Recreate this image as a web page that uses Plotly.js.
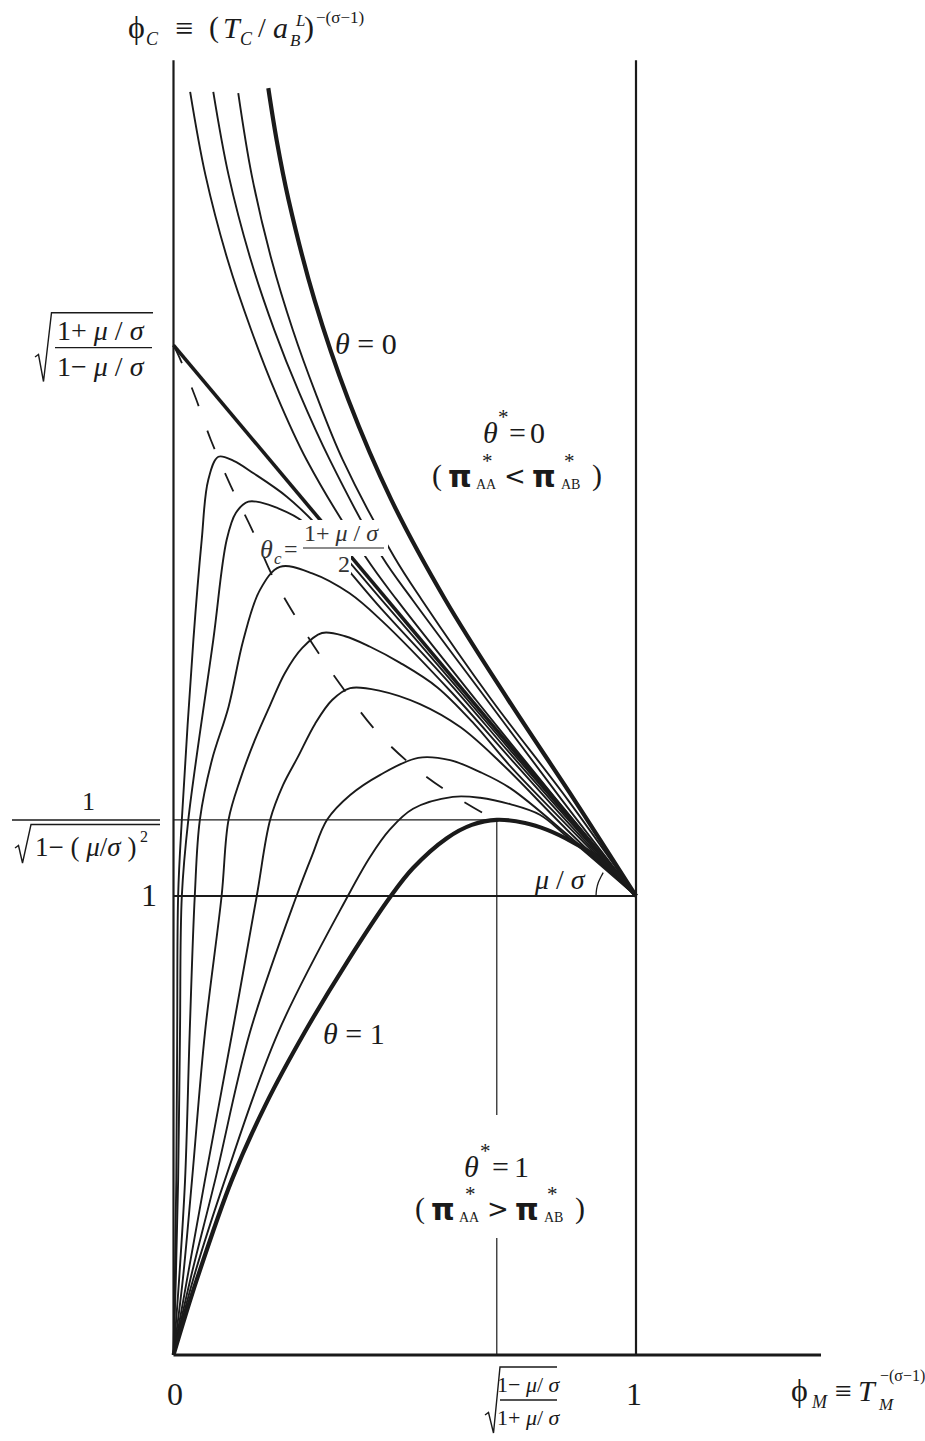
<!DOCTYPE html>
<html>
<head>
<meta charset="utf-8">
<script src="https://cdn.plot.ly/plotly-3.0.1.min.js"></script>
<style>
  html, body { margin: 0; padding: 0; background: #fff; }
  #chart { width: 925px; height: 1441px; }
</style>
</head>
<body>
<div id="chart"></div>
<script>
// curves that leave the origin, peak, then run into (1, 1)
const p1X = [0, 0.003, 0.006, 0.008, 0.01, 0.018, 0.043, 0.061, 0.075, 0.097, 0.13, 0.173, 0.245, 0.31, 0.45, 0.6, 0.728, 0.85, 1];
const p1Y = [0, 0.163, 0.381, 0.7, 1.0, 1.166, 1.558, 1.776, 1.906, 1.957, 1.948, 1.921, 1.87, 1.808, 1.645, 1.47, 1.318, 1.175, 1];
const p2X = [0, 0.005, 0.01, 0.014, 0.018, 0.032, 0.086, 0.115, 0.135, 0.162, 0.19, 0.223, 0.281, 0.45, 0.6, 0.728, 0.85, 1];
const p2Y = [0, 0.163, 0.381, 0.7, 1.0, 1.166, 1.558, 1.776, 1.835, 1.859, 1.857, 1.846, 1.815, 1.625, 1.46, 1.31, 1.17, 1];
const p3X = [0, 0.012, 0.025, 0.035, 0.046, 0.057, 0.083, 0.119, 0.151, 0.187, 0.23, 0.3, 0.38, 0.45, 0.6, 0.728, 0.85, 1];
const p3Y = [0, 0.163, 0.381, 0.702, 1.0, 1.166, 1.296, 1.412, 1.558, 1.667, 1.717, 1.703, 1.66, 1.6, 1.445, 1.3, 1.163, 1];
const p4X = [0, 0.02, 0.04, 0.068, 0.104, 0.119, 0.144, 0.176, 0.209, 0.241, 0.278, 0.321, 0.371, 0.425, 0.49, 0.57, 0.65, 0.728, 0.85, 1];
const p4Y = [0, 0.163, 0.381, 0.702, 1.0, 1.166, 1.253, 1.34, 1.416, 1.486, 1.54, 1.573, 1.566, 1.543, 1.508, 1.455, 1.375, 1.283, 1.155, 1];
const p5X = [0, 0.029, 0.068, 0.127, 0.18, 0.209, 0.237, 0.269, 0.306, 0.343, 0.382, 0.447, 0.533, 0.62, 0.706, 0.85, 1];
const p5Y = [0, 0.163, 0.381, 0.702, 1.0, 1.166, 1.242, 1.303, 1.375, 1.427, 1.453, 1.447, 1.418, 1.368, 1.292, 1.145, 1];
const p6X = [0, 0.036, 0.09, 0.165, 0.266, 0.3, 0.332, 0.382, 0.447, 0.529, 0.598, 0.663, 0.728, 0.85, 1];
const p6Y = [0, 0.163, 0.381, 0.702, 1.0, 1.089, 1.166, 1.22, 1.264, 1.301, 1.296, 1.27, 1.235, 1.135, 1];
const p7X = [0, 0.042, 0.111, 0.226, 0.377, 0.425, 0.468, 0.518, 0.604, 0.663, 0.728, 0.792, 0.85, 1];
const p7Y = [0, 0.163, 0.381, 0.702, 1.0, 1.085, 1.145, 1.19, 1.216, 1.214, 1.2, 1.177, 1.13, 1];
const theta1X = [0, 0.05, 0.126, 0.199, 0.283, 0.374, 0.47, 0.518, 0.591, 0.645, 0.699, 0.76, 0.808, 0.862, 0.916, 0.961, 1];
const theta1Y = [0, 0.163, 0.381, 0.545, 0.702, 0.854, 1.0, 1.061, 1.126, 1.155, 1.166, 1.159, 1.144, 1.118, 1.085, 1.046, 1];

// curves that come down from the top into (1, 1)
const u1X = [0.036, 0.069, 0.117, 0.168, 0.221, 0.288, 0.415, 0.483, 0.654, 0.829, 1];
const u1Y = [2.752, 2.571, 2.386, 2.233, 2.096, 1.95, 1.739, 1.645, 1.427, 1.209, 1];
const u2X = [0.086, 0.119, 0.167, 0.218, 0.272, 0.338, 0.451, 0.517, 0.678, 0.84, 1];
const u2Y = [2.752, 2.571, 2.386, 2.233, 2.096, 1.95, 1.739, 1.645, 1.427, 1.209, 1];
const u3X = [0.14, 0.169, 0.212, 0.258, 0.307, 0.366, 0.477, 0.537, 0.688, 0.853, 1];
const u3Y = [2.749, 2.571, 2.386, 2.233, 2.096, 1.95, 1.739, 1.645, 1.427, 1.209, 1];
const theta0X = [0.205, 0.223, 0.249, 0.305, 0.378, 0.471, 0.588, 0.724, 0.867, 1];
const theta0Y = [2.76, 2.647, 2.516, 2.298, 2.081, 1.863, 1.645, 1.427, 1.209, 1];

// theta_c straight line and the dashed locus of the peaks
const thetaCX = [0, 1];
const thetaCY = [2.2, 1];
const locusX = [0, 0.016, 0.048, 0.081, 0.124, 0.169, 0.214, 0.263, 0.319, 0.38, 0.442, 0.52, 0.601, 0.678, 0.699];
const locusY = [2.2, 2.166, 2.085, 1.993, 1.893, 1.8, 1.697, 1.61, 1.521, 1.434, 1.355, 1.281, 1.222, 1.176, 1.166];

// small angle arc at (1, 1)
const arcX = [0.9135, 0.9148, 0.9187, 0.9251, 0.929];
const arcY = [1.0, 1.0151, 1.0298, 1.0435, 1.051];

const peakX = 0.699;
const peakY = 1.166;
const axisTop = 2.821;
const axisRight = 1.40;

const INK = '#1a1a1a';
const SERIF = '"Liberation Serif", "DejaVu Serif", serif';
const SANS = '"DejaVu Sans", sans-serif';

// pixel -> data, only used to place text and the label rules
const px = p => (p - 173.5) / 462.5;
const py = p => (1355 - p) / 459;

function curve(x, y, width, dash) {
  return {
    type: 'scatter', mode: 'lines', x, y, hoverinfo: 'skip',
    line: { color: INK, width, shape: 'spline', smoothing: 1, dash: dash || 'solid' },
  };
}

const traces = [
  curve(p1X, p1Y, 1.9), curve(p2X, p2Y, 1.9), curve(p3X, p3Y, 1.9), curve(p4X, p4Y, 1.9),
  curve(p5X, p5Y, 1.9), curve(p6X, p6Y, 1.9), curve(p7X, p7Y, 1.9),
  curve(theta1X, theta1Y, 4.2),
  curve(u1X, u1Y, 1.9), curve(u2X, u2Y, 1.9), curve(u3X, u3Y, 1.9),
  curve(theta0X, theta0Y, 4.2),
  curve(thetaCX, thetaCY, 3.6),
  curve(locusX, locusY, 1.8, '20px,26px'),
  curve(arcX, arcY, 1.3),
];

function line(x0, y0, x1, y1, width) {
  return { type: 'line', xref: 'x', yref: 'y', x0, y0, x1, y1, layer: 'above', line: { color: INK, width } };
}
function rule(x0p, x1p, yp, width) {
  return line(px(x0p), py(yp), px(x1p), py(yp), width || 1.3);
}
function mask(x0p, x1p, y0p, y1p) {
  return { type: 'rect', xref: 'x', yref: 'y', x0: px(x0p), x1: px(x1p), y0: py(y0p), y1: py(y1p),
    fillcolor: '#fff', line: { width: 0 }, layer: 'above' };
}
function radical(points) {
  const d = points.map((p, i) => (i ? 'L' : 'M') + px(p[0]) + ',' + py(p[1])).join(' ');
  return { type: 'path', xref: 'x', yref: 'y', path: d, layer: 'above', line: { color: INK, width: 1.4 } };
}

const shapes = [
  line(0, 0, 0, axisTop, 2.2),
  line(0, 0, axisRight, 0, 2.8),
  line(1, 0, 1, axisTop, 2.2),
  line(0, 1, 1, 1, 2.2),
  line(0, peakY, peakX, peakY, 1.2),
  line(peakX, peakY, peakX, 0.523, 1.2),
  line(peakX, 0.255, peakX, 0, 1.2),
  // white boxes behind the theta_c label
  mask(299, 388, 520, 556),
  mask(335, 351, 556, 574),
  rule(303, 384, 548, 1.2),
  // left: sqrt((1+m)/(1-m))
  rule(55, 152, 347.7),
  radical([[35, 357], [38.5, 354.5], [43.5, 381.5], [51.5, 312.7], [153, 312.7]]),
  // left: 1/sqrt(1-m^2)
  rule(12, 160, 820),
  radical([[15, 848], [18.5, 845.5], [22.5, 863], [31, 824.5], [160, 824.5]]),
  // bottom: sqrt((1-m)/(1+m))
  rule(500, 557, 1400),
  radical([[485, 1415], [488.5, 1412.5], [493.5, 1433], [500, 1367], [557, 1367]]),
];

function t(text, xp, yp, size, o) {
  o = o || {};
  return {
    xref: 'x', yref: 'y', x: px(xp), y: py(yp), text, showarrow: false,
    xanchor: o.anchor || 'center', yanchor: 'middle',
    font: {
      family: o.family || SERIF, size, color: o.color || INK,
      style: o.italic ? 'italic' : 'normal', weight: o.weight || 'normal',
    },
  };
}
const it = { italic: true };
const PI = { family: SANS, weight: 'bold' };

const annotations = [
  // title of the vertical axis
  t('ϕ', 136.5, 27, 32),
  t('C', 152.5, 39, 18, it),
  t('≡', 184, 28, 32),
  t('(', 214, 27, 30),
  t('T', 232, 27, 30, it),
  t('C', 246.5, 39, 18, it),
  t('/', 261.5, 27, 28),
  t('a', 280, 27, 30, it),
  t('B', 295, 40, 17, it),
  t('L', 299.5, 20, 17, it),
  t(')', 308.5, 27, 30),
  t('−(σ−1)', 314, 17, 17, { anchor: 'left' }),

  // left tick labels
  t('1+ <i>μ</i> / <i>σ</i>', 101, 330, 28),
  t('1− <i>μ</i> / <i>σ</i>', 101, 366, 28),
  t('1', 88, 801, 26),
  t('1− ( <i>μ</i>/<i>σ</i> )', 33, 847, 27, { anchor: 'left' }),
  t('2', 144, 836, 16),
  t('1', 148.5, 895, 32),

  // bottom tick labels
  t('0', 175, 1394, 32),
  t('1', 634, 1394, 32),
  t('1− <i>μ</i>/ <i>σ</i>', 529, 1384, 22),
  t('1+ <i>μ</i>/ <i>σ</i>', 529, 1417, 22),
  t('ϕ', 799, 1390, 32),
  t('M', 819, 1402, 18, it),
  t('≡', 843, 1390, 30),
  t('T', 867, 1390, 30, it),
  t('M', 886, 1404, 17, it),
  t('−(σ−1)', 878, 1376, 16, { anchor: 'left' }),

  // curve labels
  t('<i>θ</i> = 0', 366, 343, 30),
  t('<i>θ</i> = 1', 354, 1033, 30),
  t('θ', 266, 549, 26, { italic: true, color: '#333' }),
  t('c', 277.5, 558, 17, { italic: true, color: '#333' }),
  t('=', 291, 549, 24, { color: '#333' }),
  t('1+ <i>μ</i> / <i>σ</i>', 341, 533, 24, { color: '#333' }),
  t('2', 344, 564, 24, { color: '#333' }),
  t('<i>μ</i> / <i>σ</i>', 560, 879, 28),

  // region: theta* = 0
  t('θ', 490, 432, 30, it),
  t('*', 503.5, 417, 21),
  t('=', 517, 432, 30),
  t('0', 537, 432, 30),
  t('(', 437, 475, 30),
  t('π', 460, 476, 30, PI),
  t('*', 487, 461, 21),
  t('AA', 486, 484, 14),
  t('<', 515, 476, 26, { family: SANS }),
  t('π', 544, 476, 30, PI),
  t('*', 569, 461, 21),
  t('AB', 570, 484, 14),
  t(')', 597, 475, 30),

  // region: theta* = 1
  t('θ', 471.5, 1166, 30, it),
  t('*', 485, 1151, 21),
  t('=', 500, 1166, 30),
  t('1', 521, 1166, 30),
  t('(', 420, 1208, 30),
  t('π', 443, 1209, 30, PI),
  t('*', 470, 1194, 21),
  t('AA', 469, 1217, 14),
  t('>', 498, 1209, 26, { family: SANS }),
  t('π', 527, 1209, 30, PI),
  t('*', 552, 1194, 21),
  t('AB', 553, 1217, 14),
  t(')', 580, 1208, 30),
];

const layout = {
  width: 925,
  height: 1441,
  margin: { l: 0, r: 0, t: 0, b: 0 },
  paper_bgcolor: '#fff',
  plot_bgcolor: '#fff',
  showlegend: false,
  xaxis: { range: [px(0), px(925)], visible: false, fixedrange: true },
  yaxis: { range: [py(1441), py(0)], visible: false, fixedrange: true },
  shapes,
  annotations,
};

Plotly.newPlot('chart', traces, layout, { staticPlot: true, displayModeBar: false });
</script>
</body>
</html>
